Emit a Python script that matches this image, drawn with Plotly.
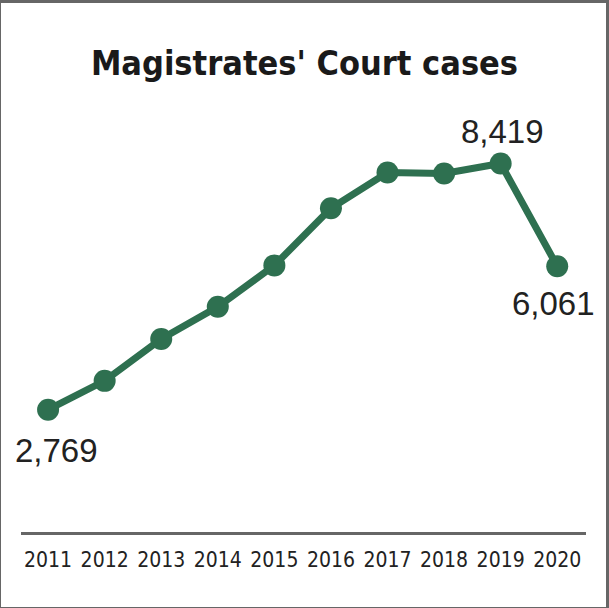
import plotly.graph_objects as go

# Annual case counts
years = [2011, 2012, 2013, 2014, 2015, 2016, 2017, 2018, 2019, 2020]
cases = [2769, 3430, 4390, 5130, 6080, 7390, 8210, 8190, 8419, 6061]

# Values called out directly on the line
labelled_years = [2011, 2019, 2020]
label_offsets = {2011: (8, -41), 2019: (2, 32), 2020: (-4, -37)}

W, H = 609, 608
GREEN = "#2e7050"
COND = "DejaVu Sans Condensed, DejaVu Sans"

fig = go.Figure()
fig.add_trace(go.Scatter(
    x=years, y=cases, mode="lines+markers",
    line=dict(color=GREEN, width=7),
    marker=dict(color=GREEN, size=22),
    hoverinfo="skip",
))

# Empty full-page subplot whose mirrored axis lines form the outer frame
fig.add_trace(go.Scatter(x=[0], y=[0], xaxis="x2", yaxis="y2",
                         mode="markers", marker=dict(opacity=0),
                         hoverinfo="skip"))

for yr in labelled_years:
    v = cases[years.index(yr)]
    dx, dy = label_offsets[yr]
    fig.add_annotation(
        x=yr, y=v, text=f"{v:,}", showarrow=False,
        xshift=dx, yshift=dy,
        font=dict(family="Liberation Sans, Arial", size=33, color="#222222"),
    )

frame = dict(showline=True, mirror=True, linecolor="#666666", linewidth=3,
             showgrid=False, zeroline=False, showticklabels=False, ticks="",
             range=[0, 1], fixedrange=True)

fig.update_layout(
    width=W, height=H,
    margin=dict(l=0, r=0, t=0, b=0),
    paper_bgcolor="white", plot_bgcolor="rgba(0,0,0,0)",
    showlegend=False,
    title=dict(
        text="<b>Magistrates' Court cases</b>",
        x=0.5, xanchor="center", y=1 - 63 / H, yanchor="middle",
        font=dict(family=COND, size=34, color="#1a1a1a"),
    ),
    xaxis=dict(
        domain=[21 / W, 588 / W],
        range=[2010.52, 2020.51],
        tickvals=years, ticktext=[str(y) for y in years],
        showgrid=False, zeroline=False,
        showline=True, linecolor="#666666", linewidth=2.5,
        ticks="", ticklabelstandoff=7,
        tickfont=dict(family=COND, size=21, color="#222222"),
    ),
    yaxis=dict(
        domain=[(H - 532) / H, (H - 100) / H],
        range=[-44, 9837],
        visible=False,
    ),
    xaxis2=dict(domain=[1.5 / W, 1 - 1.5 / W], anchor="y2", **frame),
    yaxis2=dict(domain=[1.5 / H, 1 - 1.5 / H], anchor="x2", **frame),
)

fig.write_html("out.html")
